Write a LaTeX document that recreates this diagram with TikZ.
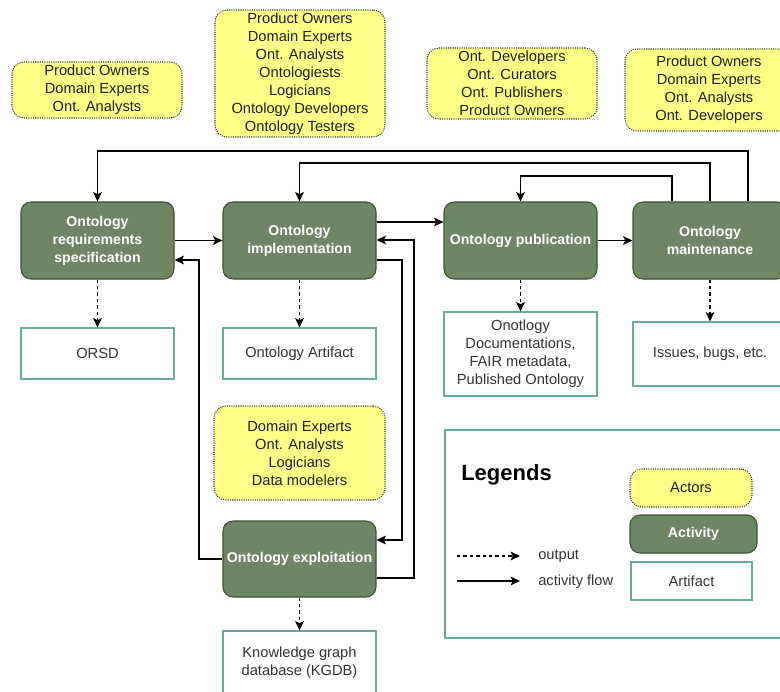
\documentclass[tikz,border=0pt]{standalone}
\usepackage{fontspec}
\setmainfont{Liberation Sans}
\usetikzlibrary{arrows.meta}

\definecolor{actfill}{HTML}{6D8764}
\definecolor{actline}{HTML}{3A5431}
\definecolor{actorfill}{HTML}{FFFF88}
\definecolor{actorline}{HTML}{36393D}
\definecolor{artline}{HTML}{67AB9F}
\definecolor{txtgray}{HTML}{333333}

\tikzset{
  base/.style={inner sep=0pt, align=center, font=\fontsize{11}{13.5}\selectfont},
  sz/.style 2 args={minimum width=#1*0.75pt, minimum height=#2*0.75pt},
  activity/.style={base, fill=actfill, draw=actline, line width=0.8pt, rounded corners=7.5pt,
    text=white, font=\fontsize{10.6}{13.5}\selectfont\bfseries},
  actor/.style={base, fill=actorfill, draw=actorline, line width=0.8pt,
    dash pattern=on 0.8pt off 0.9pt, rounded corners=9pt, text=black!88},
  artifact/.style={base, fill=white, draw=artline, line width=0.8pt, text=txtgray},
  flow/.style={line width=1.1pt, -{Stealth[length=7pt,width=6.5pt,inset=1.5pt]}},
  output/.style={flow, dash pattern=on 2.6pt off 2.2pt},
}

\begin{document}
\begin{tikzpicture}[x=0.75pt,y=-0.75pt]
\useasboundingbox (0,0) rectangle (780,691);

% actors
\node[actor, sz={170}{56}] (r1) at (97,90) {Product Owners\\Domain Experts\\Ont. Analysts};
\node[actor, sz={170}{127}] (r2) at (300,73.5) {Product Owners\\Domain Experts\\Ont. Analysts\\Ontologiests\\Logicians\\Ontology Developers\\Ontology Testers};
\node[actor, sz={170}{71}] (r3) at (512,83.5) {Ont. Developers\\Ont. Curators\\Ont. Publishers\\Product Owners};
\node[actor, sz={168}{82}] (r4) at (709,90) {Product Owners\\Domain Experts\\Ont. Analysts\\Ont. Developers};
\node[actor, sz={171}{94}] (r5) at (299.5,453) {Domain Experts\\Ont. Analysts\\Logicians\\Data modelers};

% activities
\node[activity, sz={153}{77}] (a1) at (97.5,240.5) {Ontology\\requirements\\specification};
\node[activity, sz={153}{77}] (a2) at (299.5,240.5) {Ontology\\implementation};
\node[activity, sz={153}{77}] (a3) at (520.5,240.5) {Ontology publication};
\node[activity, sz={154}{77}] (a4) at (710,240.5) {Ontology\\maintenance};
\node[activity, sz={153}{76}] (a5) at (299.5,559) {Ontology exploitation};

% artifacts
\node[artifact, sz={153}{51}] (o1) at (97.5,353.5) {ORSD};
\node[artifact, sz={153}{51}] (o2) at (299.5,353.5) {Ontology Artifact};
\node[artifact, sz={153}{84}] (o3) at (520.5,354) {Onotlogy\\Documentations,\\FAIR metadata,\\Published Ontology};
\node[artifact, sz={154}{64}] (o4) at (710,354) {Issues, bugs, etc.};
\node[artifact, sz={153}{64}] (o5) at (299.5,663) {Knowledge graph\\database (KGDB)};

% activity flow
\draw[flow] (a1.east) -- (a2.west);
\coordinate (c9) at (410,222);
\draw[flow] (a2.east |- c9) -- (a3.west |- c9);
\draw[flow] (a3.east) -- (a4.west);

\coordinate (c1) at (672,176);
\draw[flow] (a4.north -| c1) -- (c1) -| (a3.north);
\coordinate (c2) at (710,163);
\draw[flow] (a4.north -| c2) -- (c2) -| (a2.north);
\coordinate (c3) at (748,151);
\draw[flow] (a4.north -| c3) -- (c3) -| (a1.north);

\coordinate (c4) at (199,260);
\draw[flow] (a5.west) -| (c4) -- (a1.east |- c4);
\coordinate (c5) at (402,260);
\coordinate (c6) at (402,540);
\draw[flow] (a2.east |- c5) -- (c5) -- (c6) -- (a5.east |- c6);
\coordinate (c7) at (414,578);
\coordinate (c8) at (414,240);
\draw[flow] (a5.east |- c7) -- (c7) -- (c8) -- (a2.east |- c8);

% outputs
\draw[output] (a1.south) -- (o1.north);
\draw[output] (a2.south) -- (o2.north);
\draw[output] (a3.south) -- (o3.north);
\draw[output] (a4.south) -- (o4.north);
\draw[output] (a5.south) -- (o5.north);

% legend
\node[artifact, sz={350}{208}] (lg) at (620,534) {};
\node[base, font=\fontsize{16.5}{18}\selectfont\bfseries, anchor=west] (lgt) at (461,475) {Legends};
\node[actor, sz={122}{38}] (lr) at (691,488) {Actors};
\node[activity, sz={127}{38}] (la) at (693.5,534) {Activity};
\node[artifact, sz={121}{38}] (lo) at (691.5,581) {Artifact};
\coordinate (l1a) at (457,556);
\coordinate (l1b) at (520,556);
\coordinate (l2a) at (457,581);
\coordinate (l2b) at (520,581);
\draw[output] (l1a) -- (l1b);
\draw[flow] (l2a) -- (l2b);
\node[base, anchor=west, text=txtgray] (lt1) at (538,556) {output};
\node[base, anchor=west, text=txtgray] (lt2) at (538,582) {activity flow};
\end{tikzpicture}
\end{document}
